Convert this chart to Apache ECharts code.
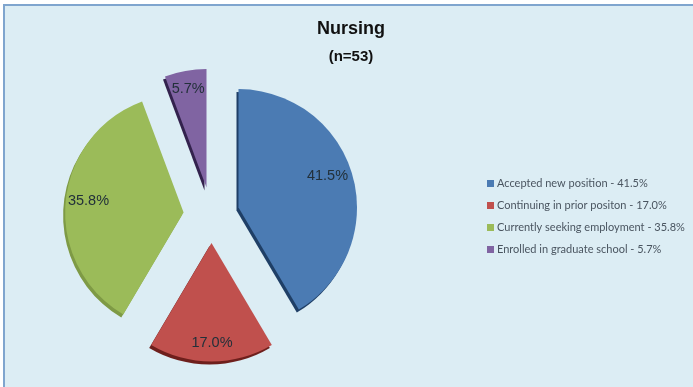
<!DOCTYPE html>
<html><head><meta charset="utf-8">
<style>html,body{margin:0;padding:0;background:#fff}#c{width:693px;height:387px}</style>
<script src="https://cdn.jsdelivr.net/npm/echarts@6/dist/echarts.min.js"></script>
</head><body><div id="c"></div>
<script>
const categories = ['Accepted new position','Continuing in prior positon','Currently seeking employment','Enrolled in graduate school'];
const shares = [41.5, 17.0, 35.8, 5.7];
const colors = ['#4B7BB3','#C0504D','#9BBB59','#8064A2'];
const edgeColors = ['#1F3F66','#6E1F1C','#7E9A45','#33224D'];
const fmt = v => v.toFixed(1) + '%';
const names = categories.map((c,i) => c + ' - ' + fmt(shares[i]));
const chart = echarts.init(document.getElementById('c'), null, {renderer:'canvas'});
const center = [211.5,215];
const labelNudges = [[-7.5,-5.5],[0.5,0],[4.5,-2.5],[-0.5,0]];
chart.setOption({
  animation:false,
  backgroundColor:'#DCEDF4',
  graphic:[
    {type:'rect',silent:true,z:0,shape:{x:0,y:0,width:693,height:4},style:{fill:'#fff'}},
    {type:'rect',silent:true,z:0,shape:{x:0,y:0,width:3,height:387},style:{fill:'#fff'}},
    {type:'rect',silent:true,z:0,shape:{x:3,y:4,width:690,height:2},style:{fill:'#7FA5CE'}},
    {type:'rect',silent:true,z:0,shape:{x:3,y:4,width:2,height:383},style:{fill:'#7FA5CE'}}
  ],
  title:{
    text:'Nursing',subtext:'(n=53)',left:346,top:15,textAlign:'center',itemGap:11,
    textStyle:{fontFamily:'Liberation Sans',fontSize:18,fontWeight:'bold',color:'#111'},
    subtextStyle:{fontFamily:'Liberation Sans',fontSize:15,fontWeight:'bold',color:'#111'}
  },
  legend:{
    orient:'vertical',left:482,top:172,itemWidth:7,itemHeight:7,itemGap:9,icon:'rect',
    textStyle:{fontFamily:'Lato',fontSize:11,lineHeight:13,color:'#4a5560',padding:[0,0,0,-2]},
    data:names
  },
  series:[
    {type:'pie',center,radius:[0,118.5],startAngle:90,clockwise:true,selectedMode:'multiple',selectedOffset:28,
      label:{show:false},labelLine:{show:false},silent:true,
      data:names.map((n,i)=>({name:n,value:shares[i],selected:true,
        itemStyle:{color:colors[i],borderWidth:0,shadowColor:edgeColors[i],shadowBlur:0,shadowOffsetX:-2,shadowOffsetY:3}}))},
    {type:'pie',center,radius:[74,120],startAngle:90,clockwise:true,selectedMode:'multiple',selectedOffset:28,silent:true,
      itemStyle:{color:'rgba(0,0,0,0)'},
      labelLine:{show:false},
      label:{show:true,position:'inside',fontFamily:'Liberation Sans',fontSize:14.5,color:'#22303a',
        formatter:p=>fmt(p.value)},
      labelLayout:p=>({dx:labelNudges[p.dataIndex][0],dy:labelNudges[p.dataIndex][1]}),
      data:names.map((n,i)=>({name:n,value:shares[i],selected:true}))}
  ]
});
</script></body></html>
